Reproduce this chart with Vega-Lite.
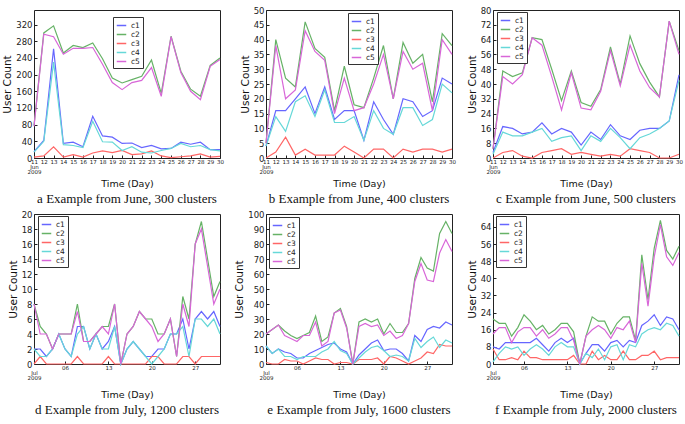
{
"$schema": "https://vega.github.io/schema/vega-lite/v6.json",
"padding": {"left": 2, "top": 5, "right": 2, "bottom": 0},
"columns": 3,
"spacing": {"row": 2, "column": 10},
"datasets": {
"a": [
{"d":11,"s":"c1","v":15},{"d":12,"s":"c1","v":42},{"d":13,"s":"c1","v":262},{"d":14,"s":"c1","v":35},{"d":15,"s":"c1","v":38},{"d":16,"s":"c1","v":27},{"d":17,"s":"c1","v":100},{"d":18,"s":"c1","v":53},{"d":19,"s":"c1","v":50},{"d":20,"s":"c1","v":35},{"d":21,"s":"c1","v":36},{"d":22,"s":"c1","v":25},{"d":23,"s":"c1","v":30},{"d":24,"s":"c1","v":22},{"d":25,"s":"c1","v":23},{"d":26,"s":"c1","v":38},{"d":27,"s":"c1","v":33},{"d":28,"s":"c1","v":38},{"d":29,"s":"c1","v":20},{"d":30,"s":"c1","v":20},
{"d":11,"s":"c2","v":78},{"d":12,"s":"c2","v":300},{"d":13,"s":"c2","v":317},{"d":14,"s":"c2","v":252},{"d":15,"s":"c2","v":270},{"d":16,"s":"c2","v":265},{"d":17,"s":"c2","v":276},{"d":18,"s":"c2","v":238},{"d":19,"s":"c2","v":192},{"d":20,"s":"c2","v":180},{"d":21,"s":"c2","v":188},{"d":22,"s":"c2","v":196},{"d":23,"s":"c2","v":235},{"d":24,"s":"c2","v":155},{"d":25,"s":"c2","v":292},{"d":26,"s":"c2","v":208},{"d":27,"s":"c2","v":165},{"d":28,"s":"c2","v":148},{"d":29,"s":"c2","v":222},{"d":30,"s":"c2","v":240},
{"d":11,"s":"c3","v":2},{"d":12,"s":"c3","v":5},{"d":13,"s":"c3","v":27},{"d":14,"s":"c3","v":2},{"d":15,"s":"c3","v":8},{"d":16,"s":"c3","v":2},{"d":17,"s":"c3","v":12},{"d":18,"s":"c3","v":17},{"d":19,"s":"c3","v":13},{"d":20,"s":"c3","v":18},{"d":21,"s":"c3","v":8},{"d":22,"s":"c3","v":10},{"d":23,"s":"c3","v":17},{"d":24,"s":"c3","v":5},{"d":25,"s":"c3","v":1},{"d":26,"s":"c3","v":3},{"d":27,"s":"c3","v":5},{"d":28,"s":"c3","v":10},{"d":29,"s":"c3","v":2},{"d":30,"s":"c3","v":4},
{"d":11,"s":"c4","v":14},{"d":12,"s":"c4","v":40},{"d":13,"s":"c4","v":230},{"d":14,"s":"c4","v":32},{"d":15,"s":"c4","v":30},{"d":16,"s":"c4","v":25},{"d":17,"s":"c4","v":88},{"d":18,"s":"c4","v":39},{"d":19,"s":"c4","v":38},{"d":20,"s":"c4","v":18},{"d":21,"s":"c4","v":27},{"d":22,"s":"c4","v":14},{"d":23,"s":"c4","v":12},{"d":24,"s":"c4","v":18},{"d":25,"s":"c4","v":23},{"d":26,"s":"c4","v":35},{"d":27,"s":"c4","v":27},{"d":28,"s":"c4","v":30},{"d":29,"s":"c4","v":20},{"d":30,"s":"c4","v":17},
{"d":11,"s":"c5","v":76},{"d":12,"s":"c5","v":297},{"d":13,"s":"c5","v":291},{"d":14,"s":"c5","v":249},{"d":15,"s":"c5","v":263},{"d":16,"s":"c5","v":263},{"d":17,"s":"c5","v":265},{"d":18,"s":"c5","v":225},{"d":19,"s":"c5","v":181},{"d":20,"s":"c5","v":164},{"d":21,"s":"c5","v":181},{"d":22,"s":"c5","v":186},{"d":23,"s":"c5","v":217},{"d":24,"s":"c5","v":148},{"d":25,"s":"c5","v":291},{"d":26,"s":"c5","v":205},{"d":27,"s":"c5","v":160},{"d":28,"s":"c5","v":140},{"d":29,"s":"c5","v":220},{"d":30,"s":"c5","v":236}
],
"b": [
{"d":11,"s":"c1","v":4},{"d":12,"s":"c1","v":16},{"d":13,"s":"c1","v":16},{"d":14,"s":"c1","v":20},{"d":15,"s":"c1","v":24},{"d":16,"s":"c1","v":15},{"d":17,"s":"c1","v":24},{"d":18,"s":"c1","v":13},{"d":19,"s":"c1","v":16},{"d":20,"s":"c1","v":16},{"d":21,"s":"c1","v":6},{"d":22,"s":"c1","v":19},{"d":23,"s":"c1","v":13},{"d":24,"s":"c1","v":8},{"d":25,"s":"c1","v":20},{"d":26,"s":"c1","v":19},{"d":27,"s":"c1","v":14},{"d":28,"s":"c1","v":16},{"d":29,"s":"c1","v":27},{"d":30,"s":"c1","v":25},
{"d":11,"s":"c2","v":5},{"d":12,"s":"c2","v":40},{"d":13,"s":"c2","v":27},{"d":14,"s":"c2","v":24},{"d":15,"s":"c2","v":46},{"d":16,"s":"c2","v":37},{"d":17,"s":"c2","v":34},{"d":18,"s":"c2","v":16},{"d":19,"s":"c2","v":31},{"d":20,"s":"c2","v":18},{"d":21,"s":"c2","v":17},{"d":22,"s":"c2","v":27},{"d":23,"s":"c2","v":38},{"d":24,"s":"c2","v":20},{"d":25,"s":"c2","v":39},{"d":26,"s":"c2","v":32},{"d":27,"s":"c2","v":35},{"d":28,"s":"c2","v":19},{"d":29,"s":"c2","v":42},{"d":30,"s":"c2","v":38},
{"d":11,"s":"c3","v":0},{"d":12,"s":"c3","v":2},{"d":13,"s":"c3","v":7},{"d":14,"s":"c3","v":1},{"d":15,"s":"c3","v":3},{"d":16,"s":"c3","v":1},{"d":17,"s":"c3","v":1},{"d":18,"s":"c3","v":1},{"d":19,"s":"c3","v":4},{"d":20,"s":"c3","v":2},{"d":21,"s":"c3","v":0},{"d":22,"s":"c3","v":3},{"d":23,"s":"c3","v":3},{"d":24,"s":"c3","v":0},{"d":25,"s":"c3","v":3},{"d":26,"s":"c3","v":2},{"d":27,"s":"c3","v":3},{"d":28,"s":"c3","v":3},{"d":29,"s":"c3","v":2},{"d":30,"s":"c3","v":3},
{"d":11,"s":"c4","v":4},{"d":12,"s":"c4","v":14},{"d":13,"s":"c4","v":9},{"d":14,"s":"c4","v":19},{"d":15,"s":"c4","v":21},{"d":16,"s":"c4","v":14},{"d":17,"s":"c4","v":23},{"d":18,"s":"c4","v":12},{"d":19,"s":"c4","v":12},{"d":20,"s":"c4","v":14},{"d":21,"s":"c4","v":6},{"d":22,"s":"c4","v":16},{"d":23,"s":"c4","v":10},{"d":24,"s":"c4","v":8},{"d":25,"s":"c4","v":17},{"d":26,"s":"c4","v":17},{"d":27,"s":"c4","v":11},{"d":28,"s":"c4","v":13},{"d":29,"s":"c4","v":25},{"d":30,"s":"c4","v":22},
{"d":11,"s":"c5","v":5},{"d":12,"s":"c5","v":38},{"d":13,"s":"c5","v":20},{"d":14,"s":"c5","v":23},{"d":15,"s":"c5","v":43},{"d":16,"s":"c5","v":36},{"d":17,"s":"c5","v":33},{"d":18,"s":"c5","v":15},{"d":19,"s":"c5","v":27},{"d":20,"s":"c5","v":16},{"d":21,"s":"c5","v":17},{"d":22,"s":"c5","v":25},{"d":23,"s":"c5","v":35},{"d":24,"s":"c5","v":20},{"d":25,"s":"c5","v":36},{"d":26,"s":"c5","v":30},{"d":27,"s":"c5","v":32},{"d":28,"s":"c5","v":16},{"d":29,"s":"c5","v":40},{"d":30,"s":"c5","v":35}
],
"c": [
{"d":11,"s":"c1","v":3},{"d":12,"s":"c1","v":17},{"d":13,"s":"c1","v":16},{"d":14,"s":"c1","v":13},{"d":15,"s":"c1","v":14},{"d":16,"s":"c1","v":19},{"d":17,"s":"c1","v":13},{"d":18,"s":"c1","v":16},{"d":19,"s":"c1","v":14},{"d":20,"s":"c1","v":7},{"d":21,"s":"c1","v":14},{"d":22,"s":"c1","v":10},{"d":23,"s":"c1","v":18},{"d":24,"s":"c1","v":12},{"d":25,"s":"c1","v":10},{"d":26,"s":"c1","v":15},{"d":27,"s":"c1","v":16},{"d":28,"s":"c1","v":16},{"d":29,"s":"c1","v":20},{"d":30,"s":"c1","v":45},
{"d":11,"s":"c2","v":5},{"d":12,"s":"c2","v":47},{"d":13,"s":"c2","v":44},{"d":14,"s":"c2","v":46},{"d":15,"s":"c2","v":65},{"d":16,"s":"c2","v":64},{"d":17,"s":"c2","v":48},{"d":18,"s":"c2","v":31},{"d":19,"s":"c2","v":47},{"d":20,"s":"c2","v":30},{"d":21,"s":"c2","v":28},{"d":22,"s":"c2","v":37},{"d":23,"s":"c2","v":60},{"d":24,"s":"c2","v":40},{"d":25,"s":"c2","v":66},{"d":26,"s":"c2","v":51},{"d":27,"s":"c2","v":41},{"d":28,"s":"c2","v":33},{"d":29,"s":"c2","v":74},{"d":30,"s":"c2","v":58},
{"d":11,"s":"c3","v":0},{"d":12,"s":"c3","v":3},{"d":13,"s":"c3","v":4},{"d":14,"s":"c3","v":1},{"d":15,"s":"c3","v":0},{"d":16,"s":"c3","v":3},{"d":17,"s":"c3","v":4},{"d":18,"s":"c3","v":5},{"d":19,"s":"c3","v":2},{"d":20,"s":"c3","v":3},{"d":21,"s":"c3","v":2},{"d":22,"s":"c3","v":1},{"d":23,"s":"c3","v":2},{"d":24,"s":"c3","v":1},{"d":25,"s":"c3","v":5},{"d":26,"s":"c3","v":4},{"d":27,"s":"c3","v":3},{"d":28,"s":"c3","v":0},{"d":29,"s":"c3","v":0},{"d":30,"s":"c3","v":2},
{"d":11,"s":"c4","v":2},{"d":12,"s":"c4","v":14},{"d":13,"s":"c4","v":12},{"d":14,"s":"c4","v":12},{"d":15,"s":"c4","v":14},{"d":16,"s":"c4","v":16},{"d":17,"s":"c4","v":9},{"d":18,"s":"c4","v":11},{"d":19,"s":"c4","v":12},{"d":20,"s":"c4","v":4},{"d":21,"s":"c4","v":12},{"d":22,"s":"c4","v":9},{"d":23,"s":"c4","v":16},{"d":24,"s":"c4","v":11},{"d":25,"s":"c4","v":5},{"d":26,"s":"c4","v":11},{"d":27,"s":"c4","v":13},{"d":28,"s":"c4","v":16},{"d":29,"s":"c4","v":20},{"d":30,"s":"c4","v":42},
{"d":11,"s":"c5","v":5},{"d":12,"s":"c5","v":44},{"d":13,"s":"c5","v":40},{"d":14,"s":"c5","v":45},{"d":15,"s":"c5","v":65},{"d":16,"s":"c5","v":61},{"d":17,"s":"c5","v":44},{"d":18,"s":"c5","v":26},{"d":19,"s":"c5","v":46},{"d":20,"s":"c5","v":27},{"d":21,"s":"c5","v":26},{"d":22,"s":"c5","v":36},{"d":23,"s":"c5","v":58},{"d":24,"s":"c5","v":39},{"d":25,"s":"c5","v":61},{"d":26,"s":"c5","v":47},{"d":27,"s":"c5","v":38},{"d":28,"s":"c5","v":33},{"d":29,"s":"c5","v":74},{"d":30,"s":"c5","v":56}
],
"d": [
{"d":1,"s":"c1","v":2},{"d":2,"s":"c1","v":2},{"d":3,"s":"c1","v":1},{"d":4,"s":"c1","v":2},{"d":5,"s":"c1","v":4},{"d":6,"s":"c1","v":2},{"d":7,"s":"c1","v":1},{"d":8,"s":"c1","v":5},{"d":9,"s":"c1","v":5},{"d":10,"s":"c1","v":2},{"d":11,"s":"c1","v":4},{"d":12,"s":"c1","v":2},{"d":13,"s":"c1","v":3},{"d":14,"s":"c1","v":5},{"d":15,"s":"c1","v":0},{"d":16,"s":"c1","v":2},{"d":17,"s":"c1","v":3},{"d":18,"s":"c1","v":2},{"d":19,"s":"c1","v":1},{"d":20,"s":"c1","v":1},{"d":21,"s":"c1","v":2},{"d":22,"s":"c1","v":2},{"d":23,"s":"c1","v":4},{"d":24,"s":"c1","v":4},{"d":25,"s":"c1","v":6},{"d":26,"s":"c1","v":2},{"d":27,"s":"c1","v":6},{"d":28,"s":"c1","v":7},{"d":29,"s":"c1","v":6},{"d":30,"s":"c1","v":7},{"d":31,"s":"c1","v":5},
{"d":1,"s":"c2","v":8},{"d":2,"s":"c2","v":5},{"d":3,"s":"c2","v":4},{"d":4,"s":"c2","v":2},{"d":5,"s":"c2","v":4},{"d":6,"s":"c2","v":4},{"d":7,"s":"c2","v":4},{"d":8,"s":"c2","v":8},{"d":9,"s":"c2","v":3},{"d":10,"s":"c2","v":3},{"d":11,"s":"c2","v":4},{"d":12,"s":"c2","v":5},{"d":13,"s":"c2","v":5},{"d":14,"s":"c2","v":8},{"d":15,"s":"c2","v":0},{"d":16,"s":"c2","v":4},{"d":17,"s":"c2","v":5},{"d":18,"s":"c2","v":7},{"d":19,"s":"c2","v":6},{"d":20,"s":"c2","v":6},{"d":21,"s":"c2","v":4},{"d":22,"s":"c2","v":4},{"d":23,"s":"c2","v":6},{"d":24,"s":"c2","v":1},{"d":25,"s":"c2","v":9},{"d":26,"s":"c2","v":6},{"d":27,"s":"c2","v":16},{"d":28,"s":"c2","v":19},{"d":29,"s":"c2","v":14},{"d":30,"s":"c2","v":9},{"d":31,"s":"c2","v":11},
{"d":1,"s":"c3","v":0},{"d":2,"s":"c3","v":1},{"d":3,"s":"c3","v":0},{"d":4,"s":"c3","v":0},{"d":5,"s":"c3","v":0},{"d":6,"s":"c3","v":0},{"d":7,"s":"c3","v":0},{"d":8,"s":"c3","v":1},{"d":9,"s":"c3","v":0},{"d":10,"s":"c3","v":0},{"d":11,"s":"c3","v":0},{"d":12,"s":"c3","v":0},{"d":13,"s":"c3","v":1},{"d":14,"s":"c3","v":0},{"d":15,"s":"c3","v":0},{"d":16,"s":"c3","v":0},{"d":17,"s":"c3","v":0},{"d":18,"s":"c3","v":0},{"d":19,"s":"c3","v":0},{"d":20,"s":"c3","v":1},{"d":21,"s":"c3","v":1},{"d":22,"s":"c3","v":0},{"d":23,"s":"c3","v":0},{"d":24,"s":"c3","v":0},{"d":25,"s":"c3","v":1},{"d":26,"s":"c3","v":1},{"d":27,"s":"c3","v":0},{"d":28,"s":"c3","v":1},{"d":29,"s":"c3","v":1},{"d":30,"s":"c3","v":1},{"d":31,"s":"c3","v":1},
{"d":1,"s":"c4","v":2},{"d":2,"s":"c4","v":1},{"d":3,"s":"c4","v":1},{"d":4,"s":"c4","v":2},{"d":5,"s":"c4","v":4},{"d":6,"s":"c4","v":2},{"d":7,"s":"c4","v":1},{"d":8,"s":"c4","v":4},{"d":9,"s":"c4","v":5},{"d":10,"s":"c4","v":2},{"d":11,"s":"c4","v":4},{"d":12,"s":"c4","v":2},{"d":13,"s":"c4","v":2},{"d":14,"s":"c4","v":5},{"d":15,"s":"c4","v":0},{"d":16,"s":"c4","v":2},{"d":17,"s":"c4","v":3},{"d":18,"s":"c4","v":2},{"d":19,"s":"c4","v":1},{"d":20,"s":"c4","v":0},{"d":21,"s":"c4","v":1},{"d":22,"s":"c4","v":2},{"d":23,"s":"c4","v":4},{"d":24,"s":"c4","v":4},{"d":25,"s":"c4","v":5},{"d":26,"s":"c4","v":1},{"d":27,"s":"c4","v":6},{"d":28,"s":"c4","v":6},{"d":29,"s":"c4","v":5},{"d":30,"s":"c4","v":6},{"d":31,"s":"c4","v":4},
{"d":1,"s":"c5","v":8},{"d":2,"s":"c5","v":4},{"d":3,"s":"c5","v":4},{"d":4,"s":"c5","v":2},{"d":5,"s":"c5","v":4},{"d":6,"s":"c5","v":4},{"d":7,"s":"c5","v":4},{"d":8,"s":"c5","v":7},{"d":9,"s":"c5","v":3},{"d":10,"s":"c5","v":3},{"d":11,"s":"c5","v":4},{"d":12,"s":"c5","v":5},{"d":13,"s":"c5","v":4},{"d":14,"s":"c5","v":8},{"d":15,"s":"c5","v":0},{"d":16,"s":"c5","v":4},{"d":17,"s":"c5","v":5},{"d":18,"s":"c5","v":7},{"d":19,"s":"c5","v":6},{"d":20,"s":"c5","v":5},{"d":21,"s":"c5","v":3},{"d":22,"s":"c5","v":4},{"d":23,"s":"c5","v":6},{"d":24,"s":"c5","v":1},{"d":25,"s":"c5","v":8},{"d":26,"s":"c5","v":5},{"d":27,"s":"c5","v":16},{"d":28,"s":"c5","v":18},{"d":29,"s":"c5","v":13},{"d":30,"s":"c5","v":8},{"d":31,"s":"c5","v":10}
],
"e": [
{"d":1,"s":"c1","v":12},{"d":2,"s":"c1","v":7},{"d":3,"s":"c1","v":10},{"d":4,"s":"c1","v":8},{"d":5,"s":"c1","v":7},{"d":6,"s":"c1","v":4},{"d":7,"s":"c1","v":4},{"d":8,"s":"c1","v":7},{"d":9,"s":"c1","v":9},{"d":10,"s":"c1","v":11},{"d":11,"s":"c1","v":13},{"d":12,"s":"c1","v":14},{"d":13,"s":"c1","v":10},{"d":14,"s":"c1","v":8},{"d":15,"s":"c1","v":0},{"d":16,"s":"c1","v":6},{"d":17,"s":"c1","v":10},{"d":18,"s":"c1","v":14},{"d":19,"s":"c1","v":16},{"d":20,"s":"c1","v":9},{"d":21,"s":"c1","v":10},{"d":22,"s":"c1","v":10},{"d":23,"s":"c1","v":7},{"d":24,"s":"c1","v":2},{"d":25,"s":"c1","v":19},{"d":26,"s":"c1","v":15},{"d":27,"s":"c1","v":23},{"d":28,"s":"c1","v":25},{"d":29,"s":"c1","v":24},{"d":30,"s":"c1","v":28},{"d":31,"s":"c1","v":26},
{"d":1,"s":"c2","v":20},{"d":2,"s":"c2","v":23},{"d":3,"s":"c2","v":26},{"d":4,"s":"c2","v":22},{"d":5,"s":"c2","v":19},{"d":6,"s":"c2","v":17},{"d":7,"s":"c2","v":19},{"d":8,"s":"c2","v":21},{"d":9,"s":"c2","v":32},{"d":10,"s":"c2","v":15},{"d":11,"s":"c2","v":18},{"d":12,"s":"c2","v":34},{"d":13,"s":"c2","v":37},{"d":14,"s":"c2","v":25},{"d":15,"s":"c2","v":0},{"d":16,"s":"c2","v":28},{"d":17,"s":"c2","v":30},{"d":18,"s":"c2","v":28},{"d":19,"s":"c2","v":30},{"d":20,"s":"c2","v":20},{"d":21,"s":"c2","v":27},{"d":22,"s":"c2","v":21},{"d":23,"s":"c2","v":21},{"d":24,"s":"c2","v":27},{"d":25,"s":"c2","v":57},{"d":26,"s":"c2","v":71},{"d":27,"s":"c2","v":64},{"d":28,"s":"c2","v":62},{"d":29,"s":"c2","v":87},{"d":30,"s":"c2","v":95},{"d":31,"s":"c2","v":87},
{"d":1,"s":"c3","v":1},{"d":2,"s":"c3","v":0},{"d":3,"s":"c3","v":0},{"d":4,"s":"c3","v":3},{"d":5,"s":"c3","v":2},{"d":6,"s":"c3","v":2},{"d":7,"s":"c3","v":0},{"d":8,"s":"c3","v":2},{"d":9,"s":"c3","v":4},{"d":10,"s":"c3","v":3},{"d":11,"s":"c3","v":3},{"d":12,"s":"c3","v":0},{"d":13,"s":"c3","v":1},{"d":14,"s":"c3","v":1},{"d":15,"s":"c3","v":0},{"d":16,"s":"c3","v":3},{"d":17,"s":"c3","v":3},{"d":18,"s":"c3","v":3},{"d":19,"s":"c3","v":4},{"d":20,"s":"c3","v":0},{"d":21,"s":"c3","v":5},{"d":22,"s":"c3","v":4},{"d":23,"s":"c3","v":2},{"d":24,"s":"c3","v":0},{"d":25,"s":"c3","v":2},{"d":26,"s":"c3","v":4},{"d":27,"s":"c3","v":8},{"d":28,"s":"c3","v":7},{"d":29,"s":"c3","v":13},{"d":30,"s":"c3","v":12},{"d":31,"s":"c3","v":12},
{"d":1,"s":"c4","v":12},{"d":2,"s":"c4","v":7},{"d":3,"s":"c4","v":10},{"d":4,"s":"c4","v":5},{"d":5,"s":"c4","v":5},{"d":6,"s":"c4","v":3},{"d":7,"s":"c4","v":5},{"d":8,"s":"c4","v":5},{"d":9,"s":"c4","v":5},{"d":10,"s":"c4","v":8},{"d":11,"s":"c4","v":10},{"d":12,"s":"c4","v":15},{"d":13,"s":"c4","v":9},{"d":14,"s":"c4","v":7},{"d":15,"s":"c4","v":0},{"d":16,"s":"c4","v":4},{"d":17,"s":"c4","v":8},{"d":18,"s":"c4","v":11},{"d":19,"s":"c4","v":12},{"d":20,"s":"c4","v":9},{"d":21,"s":"c4","v":5},{"d":22,"s":"c4","v":6},{"d":23,"s":"c4","v":5},{"d":24,"s":"c4","v":2},{"d":25,"s":"c4","v":17},{"d":26,"s":"c4","v":11},{"d":27,"s":"c4","v":15},{"d":28,"s":"c4","v":18},{"d":29,"s":"c4","v":11},{"d":30,"s":"c4","v":16},{"d":31,"s":"c4","v":14},
{"d":1,"s":"c5","v":20},{"d":2,"s":"c5","v":23},{"d":3,"s":"c5","v":26},{"d":4,"s":"c5","v":19},{"d":5,"s":"c5","v":17},{"d":6,"s":"c5","v":15},{"d":7,"s":"c5","v":19},{"d":8,"s":"c5","v":19},{"d":9,"s":"c5","v":28},{"d":10,"s":"c5","v":12},{"d":11,"s":"c5","v":15},{"d":12,"s":"c5","v":34},{"d":13,"s":"c5","v":36},{"d":14,"s":"c5","v":24},{"d":15,"s":"c5","v":0},{"d":16,"s":"c5","v":25},{"d":17,"s":"c5","v":27},{"d":18,"s":"c5","v":25},{"d":19,"s":"c5","v":26},{"d":20,"s":"c5","v":19},{"d":21,"s":"c5","v":22},{"d":22,"s":"c5","v":17},{"d":23,"s":"c5","v":19},{"d":24,"s":"c5","v":27},{"d":25,"s":"c5","v":55},{"d":26,"s":"c5","v":67},{"d":27,"s":"c5","v":56},{"d":28,"s":"c5","v":55},{"d":29,"s":"c5","v":74},{"d":30,"s":"c5","v":83},{"d":31,"s":"c5","v":75}
],
"f": [
{"d":1,"s":"c1","v":8},{"d":2,"s":"c1","v":7},{"d":3,"s":"c1","v":10},{"d":4,"s":"c1","v":10},{"d":5,"s":"c1","v":10},{"d":6,"s":"c1","v":10},{"d":7,"s":"c1","v":10},{"d":8,"s":"c1","v":12},{"d":9,"s":"c1","v":9},{"d":10,"s":"c1","v":6},{"d":11,"s":"c1","v":10},{"d":12,"s":"c1","v":12},{"d":13,"s":"c1","v":10},{"d":14,"s":"c1","v":12},{"d":15,"s":"c1","v":0},{"d":16,"s":"c1","v":5},{"d":17,"s":"c1","v":9},{"d":18,"s":"c1","v":9},{"d":19,"s":"c1","v":6},{"d":20,"s":"c1","v":10},{"d":21,"s":"c1","v":11},{"d":22,"s":"c1","v":8},{"d":23,"s":"c1","v":11},{"d":24,"s":"c1","v":10},{"d":25,"s":"c1","v":18},{"d":26,"s":"c1","v":20},{"d":27,"s":"c1","v":23},{"d":28,"s":"c1","v":18},{"d":29,"s":"c1","v":22},{"d":30,"s":"c1","v":21},{"d":31,"s":"c1","v":16},
{"d":1,"s":"c2","v":21},{"d":2,"s":"c2","v":19},{"d":3,"s":"c2","v":19},{"d":4,"s":"c2","v":13},{"d":5,"s":"c2","v":17},{"d":6,"s":"c2","v":23},{"d":7,"s":"c2","v":20},{"d":8,"s":"c2","v":16},{"d":9,"s":"c2","v":18},{"d":10,"s":"c2","v":14},{"d":11,"s":"c2","v":16},{"d":12,"s":"c2","v":19},{"d":13,"s":"c2","v":19},{"d":14,"s":"c2","v":15},{"d":15,"s":"c2","v":0},{"d":16,"s":"c2","v":13},{"d":17,"s":"c2","v":22},{"d":18,"s":"c2","v":20},{"d":19,"s":"c2","v":20},{"d":20,"s":"c2","v":14},{"d":21,"s":"c2","v":19},{"d":22,"s":"c2","v":22},{"d":23,"s":"c2","v":22},{"d":24,"s":"c2","v":11},{"d":25,"s":"c2","v":51},{"d":26,"s":"c2","v":30},{"d":27,"s":"c2","v":54},{"d":28,"s":"c2","v":67},{"d":29,"s":"c2","v":53},{"d":30,"s":"c2","v":49},{"d":31,"s":"c2","v":55},
{"d":1,"s":"c3","v":7},{"d":2,"s":"c3","v":2},{"d":3,"s":"c3","v":2},{"d":4,"s":"c3","v":3},{"d":5,"s":"c3","v":2},{"d":6,"s":"c3","v":6},{"d":7,"s":"c3","v":3},{"d":8,"s":"c3","v":3},{"d":9,"s":"c3","v":2},{"d":10,"s":"c3","v":2},{"d":11,"s":"c3","v":2},{"d":12,"s":"c3","v":2},{"d":13,"s":"c3","v":2},{"d":14,"s":"c3","v":4},{"d":15,"s":"c3","v":0},{"d":16,"s":"c3","v":0},{"d":17,"s":"c3","v":6},{"d":18,"s":"c3","v":2},{"d":19,"s":"c3","v":4},{"d":20,"s":"c3","v":2},{"d":21,"s":"c3","v":2},{"d":22,"s":"c3","v":6},{"d":23,"s":"c3","v":2},{"d":24,"s":"c3","v":2},{"d":25,"s":"c3","v":4},{"d":26,"s":"c3","v":4},{"d":27,"s":"c3","v":6},{"d":28,"s":"c3","v":2},{"d":29,"s":"c3","v":3},{"d":30,"s":"c3","v":3},{"d":31,"s":"c3","v":3},
{"d":1,"s":"c4","v":1},{"d":2,"s":"c4","v":5},{"d":3,"s":"c4","v":8},{"d":4,"s":"c4","v":7},{"d":5,"s":"c4","v":8},{"d":6,"s":"c4","v":4},{"d":7,"s":"c4","v":7},{"d":8,"s":"c4","v":9},{"d":9,"s":"c4","v":7},{"d":10,"s":"c4","v":4},{"d":11,"s":"c4","v":8},{"d":12,"s":"c4","v":10},{"d":13,"s":"c4","v":8},{"d":14,"s":"c4","v":8},{"d":15,"s":"c4","v":0},{"d":16,"s":"c4","v":5},{"d":17,"s":"c4","v":3},{"d":18,"s":"c4","v":7},{"d":19,"s":"c4","v":2},{"d":20,"s":"c4","v":8},{"d":21,"s":"c4","v":9},{"d":22,"s":"c4","v":2},{"d":23,"s":"c4","v":9},{"d":24,"s":"c4","v":8},{"d":25,"s":"c4","v":14},{"d":26,"s":"c4","v":16},{"d":27,"s":"c4","v":17},{"d":28,"s":"c4","v":16},{"d":29,"s":"c4","v":19},{"d":30,"s":"c4","v":18},{"d":31,"s":"c4","v":13},
{"d":1,"s":"c5","v":14},{"d":2,"s":"c5","v":17},{"d":3,"s":"c5","v":17},{"d":4,"s":"c5","v":10},{"d":5,"s":"c5","v":15},{"d":6,"s":"c5","v":17},{"d":7,"s":"c5","v":17},{"d":8,"s":"c5","v":13},{"d":9,"s":"c5","v":16},{"d":10,"s":"c5","v":12},{"d":11,"s":"c5","v":14},{"d":12,"s":"c5","v":17},{"d":13,"s":"c5","v":17},{"d":14,"s":"c5","v":11},{"d":15,"s":"c5","v":0},{"d":16,"s":"c5","v":13},{"d":17,"s":"c5","v":16},{"d":18,"s":"c5","v":18},{"d":19,"s":"c5","v":16},{"d":20,"s":"c5","v":12},{"d":21,"s":"c5","v":17},{"d":22,"s":"c5","v":16},{"d":23,"s":"c5","v":20},{"d":24,"s":"c5","v":10},{"d":25,"s":"c5","v":47},{"d":26,"s":"c5","v":27},{"d":27,"s":"c5","v":50},{"d":28,"s":"c5","v":65},{"d":29,"s":"c5","v":50},{"d":30,"s":"c5","v":46},{"d":31,"s":"c5","v":52}
]
},
"concat": [
{"width": 186, "height": 148, "data": {"name": "a"},
 "title": {"text": "a  Example from June, 300 clusters"},
 "mark": {"type": "line", "strokeWidth": 1.2},
 "encoding": {
  "x": {"field": "d", "type": "quantitative", "scale": {"domain": [11, 30], "nice": false, "zero": false},
        "axis": {"title": "Time (Day)", "values": [11,12,13,14,15,16,17,18,19,20,21,22,23,24,25,26,27,28,29,30], "labelExpr": "datum.value == 11 ? ['11','Jun','2009'] : datum.label"}},
  "y": {"field": "v", "type": "quantitative", "scale": {"domain": [0, 355], "nice": false},
        "axis": {"title": "User Count", "values": [0,40,80,120,160,200,240,280,320]}},
  "color": {"field": "s", "type": "nominal", "scale": {"domain": ["c1","c2","c3","c4","c5"], "range": ["#6666ff","#66b266","#ff6666","#66d8d8","#d866d8"]},
            "legend": {"orient": "none", "legendX": 79, "legendY": 7}}
 }},
{"width": 186, "height": 148, "data": {"name": "b"},
 "title": {"text": "b  Example from June, 400 clusters"},
 "mark": {"type": "line", "strokeWidth": 1.2},
 "encoding": {
  "x": {"field": "d", "type": "quantitative", "scale": {"domain": [11, 30], "nice": false, "zero": false},
        "axis": {"title": "Time (Day)", "values": [11,12,13,14,15,16,17,18,19,20,21,22,23,24,25,26,27,28,29,30], "labelExpr": "datum.value == 11 ? ['11','Jun','2009'] : datum.label"}},
  "y": {"field": "v", "type": "quantitative", "scale": {"domain": [0, 50], "nice": false},
        "axis": {"title": "User Count", "values": [0,5,10,15,20,25,30,35,40,45,50]}},
  "color": {"field": "s", "type": "nominal", "scale": {"domain": ["c1","c2","c3","c4","c5"], "range": ["#6666ff","#66b266","#ff6666","#66d8d8","#d866d8"]},
            "legend": {"orient": "none", "legendX": 82, "legendY": 3}}
 }},
{"width": 186, "height": 148, "data": {"name": "c"},
 "title": {"text": "c  Example from June, 500 clusters"},
 "mark": {"type": "line", "strokeWidth": 1.2},
 "encoding": {
  "x": {"field": "d", "type": "quantitative", "scale": {"domain": [11, 30], "nice": false, "zero": false},
        "axis": {"title": "Time (Day)", "values": [11,12,13,14,15,16,17,18,19,20,21,22,23,24,25,26,27,28,29,30], "labelExpr": "datum.value == 11 ? ['11','Jun','2009'] : datum.label"}},
  "y": {"field": "v", "type": "quantitative", "scale": {"domain": [0, 80], "nice": false},
        "axis": {"title": "User Count", "values": [0,8,16,24,32,40,48,56,64,72,80]}},
  "color": {"field": "s", "type": "nominal", "scale": {"domain": ["c1","c2","c3","c4","c5"], "range": ["#6666ff","#66b266","#ff6666","#66d8d8","#d866d8"]},
            "legend": {"orient": "none", "legendX": 4, "legendY": 2}}
 }},
{"width": 186, "height": 150, "data": {"name": "d"},
 "title": {"text": "d  Example from July, 1200 clusters"},
 "mark": {"type": "line", "strokeWidth": 1.2},
 "encoding": {
  "x": {"field": "d", "type": "quantitative", "scale": {"domain": [1, 31], "nice": false, "zero": false},
        "axis": {"title": "Time (Day)", "values": [1,6,13,20,27], "labelExpr": "datum.value == 1 ? ['','','Jul','2009'] : (datum.value < 10 ? '0' + datum.value : '' + datum.value)"}},
  "y": {"field": "v", "type": "quantitative", "scale": {"domain": [0, 20], "nice": false},
        "axis": {"title": "User Count", "values": [0,2,4,6,8,10,12,14,16,18,20]}},
  "color": {"field": "s", "type": "nominal", "scale": {"domain": ["c1","c2","c3","c4","c5"], "range": ["#6666ff","#66b266","#ff6666","#66d8d8","#d866d8"]},
            "legend": {"orient": "none", "legendX": 4, "legendY": 2}}
 }},
{"width": 186, "height": 150, "data": {"name": "e"},
 "title": {"text": "e  Example from July, 1600 clusters"},
 "mark": {"type": "line", "strokeWidth": 1.2},
 "encoding": {
  "x": {"field": "d", "type": "quantitative", "scale": {"domain": [1, 31], "nice": false, "zero": false},
        "axis": {"title": "Time (Day)", "values": [1,6,13,20,27], "labelExpr": "datum.value == 1 ? ['','','Jul','2009'] : (datum.value < 10 ? '0' + datum.value : '' + datum.value)"}},
  "y": {"field": "v", "type": "quantitative", "scale": {"domain": [0, 100], "nice": false},
        "axis": {"title": "User Count", "values": [0,10,20,30,40,50,60,70,80,90,100]}},
  "color": {"field": "s", "type": "nominal", "scale": {"domain": ["c1","c2","c3","c4","c5"], "range": ["#6666ff","#66b266","#ff6666","#66d8d8","#d866d8"]},
            "legend": {"orient": "none", "legendX": 3, "legendY": 3}}
 }},
{"width": 186, "height": 150, "data": {"name": "f"},
 "title": {"text": "f  Example from July, 2000 clusters"},
 "mark": {"type": "line", "strokeWidth": 1.2},
 "encoding": {
  "x": {"field": "d", "type": "quantitative", "scale": {"domain": [1, 31], "nice": false, "zero": false},
        "axis": {"title": "Time (Day)", "values": [1,6,13,20,27], "labelExpr": "datum.value == 1 ? ['','','Jul','2009'] : (datum.value < 10 ? '0' + datum.value : '' + datum.value)"}},
  "y": {"field": "v", "type": "quantitative", "scale": {"domain": [0, 70], "nice": false},
        "axis": {"title": "User Count", "values": [0,8,16,24,32,40,48,56,64]}},
  "color": {"field": "s", "type": "nominal", "scale": {"domain": ["c1","c2","c3","c4","c5"], "range": ["#6666ff","#66b266","#ff6666","#66d8d8","#d866d8"]},
            "legend": {"orient": "none", "legendX": 3, "legendY": 2}}
 }}
],
"resolve": {"scale": {"color": "independent"}, "legend": {"color": "independent"}},
"config": {
 "view": {"stroke": "#222222", "strokeWidth": 1},
 "axis": {"grid": false, "domain": false, "tickColor": "#222222", "tickSize": -3, "labelColor": "#222222", "titleColor": "#111111", "labelFont": "DejaVu Sans", "titleFont": "DejaVu Sans", "titleFontWeight": "normal", "labelFlush": false, "labelOverlap": false},
 "axisX": {"labelFontSize": 5.5, "labelLineHeight": 5, "labelPadding": 4, "titleFontSize": 9.5, "titlePadding": 4, "labelBaseline": "top"},
 "axisY": {"labelFontSize": 8.5, "labelPadding": 5, "titleFontSize": 10.5, "titlePadding": 3},
 "legend": {"title": null, "strokeColor": "#333333", "fillColor": "#ffffff", "padding": 3, "symbolType": "stroke", "symbolStrokeWidth": 1.5, "symbolSize": 90, "rowPadding": 0, "labelOffset": 4, "labelFont": "DejaVu Sans", "labelFontSize": 7.5, "labelColor": "#222222"},
 "title": {"orient": "bottom", "anchor": "middle", "font": "Liberation Serif", "fontSize": 13, "fontWeight": "normal", "color": "#111111", "offset": 5}
}
}
